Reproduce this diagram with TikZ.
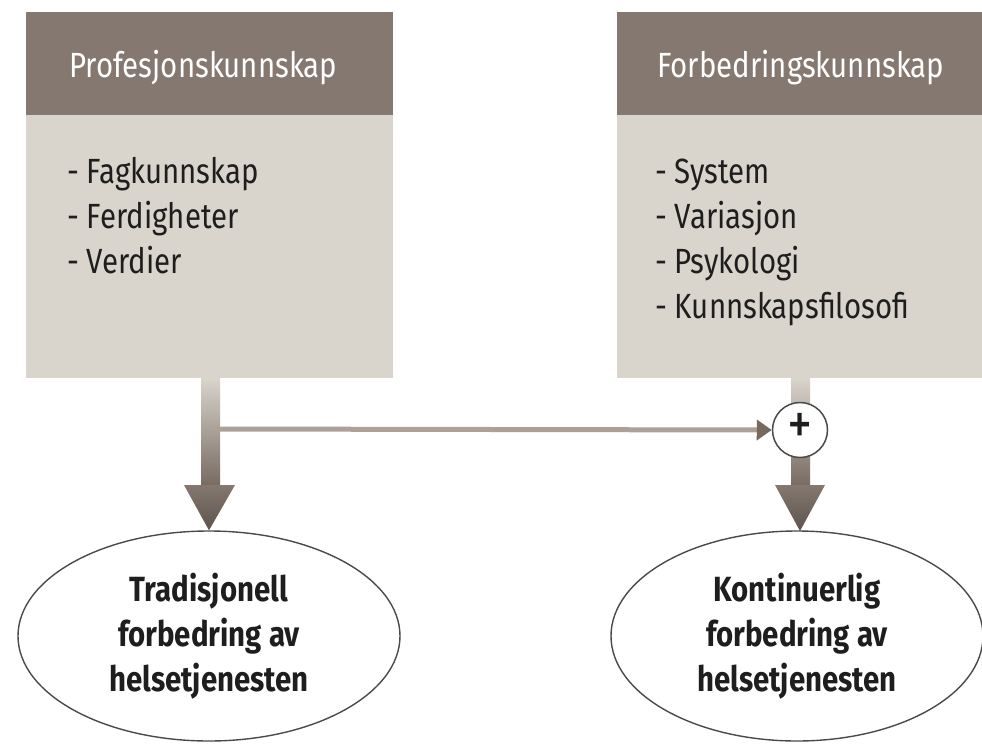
\documentclass[tikz,border=0pt]{standalone}
\usepackage{fontspec}
\setmainfont{Fira Sans}[FakeStretch=0.84]
\usetikzlibrary{shapes.geometric,arrows.meta}
\definecolor{hdr}{HTML}{857870}
\definecolor{bodyc}{HTML}{D9D4CC}
\definecolor{darkc}{HTML}{766960}
\definecolor{linec}{HTML}{ADA197}
\definecolor{edgec}{HTML}{4A4A4A}
\definecolor{txt}{HTML}{1E1E1E}
\tikzset{
  hdrbox/.style={fill=hdr, draw=none, anchor=north west, inner sep=0pt},
  bodybox/.style={fill=bodyc, draw=none, anchor=north west, inner sep=0pt},
  hdrtext/.style={text=white, anchor=base west, inner sep=0pt, font=\fontsize{35}{40}\selectfont},
  itemtext/.style={text=txt, anchor=base west, inner sep=0pt, font=\fontsize{35}{40}\selectfont},
  outcome/.style={ellipse, draw=edgec, line width=1.4pt, fill=white, minimum width=382pt, minimum height=210pt, align=center, text=txt, inner sep=0pt, font=\bfseries\fontsize{35}{45}\selectfont},
  plusnode/.style={circle, draw=edgec, line width=1.5pt, fill=white, minimum size=55pt, inner sep=0pt, text=txt, font=\fontsize{60}{60}\selectfont},
}
\begin{document}
\begin{tikzpicture}[x=1pt,y=-1pt]
\useasboundingbox (0,0) rectangle (982,744);
\fill[white] (0,0) rectangle (982,744);
% left box
\node[hdrbox, minimum width=367pt, minimum height=103pt] (h1) at (26,12) {};
\node[bodybox, minimum width=367pt, minimum height=263pt] (b1) at (26,115) {};
\node[hdrtext] (h1t) at (69,77) {Profesjonskunnskap};
\node[itemtext] (i11) at (67,183) {- Fagkunnskap};
\node[itemtext] (i12) at (67,228) {- Ferdigheter};
\node[itemtext] (i13) at (67,273) {- Verdier};
% right box
\node[hdrbox, minimum width=365pt, minimum height=103pt] (h2) at (617,12) {};
\node[bodybox, minimum width=365pt, minimum height=263pt] (b2) at (617,115) {};
\node[hdrtext] (h2t) at (657,77) {Forbedringskunnskap};
\node[itemtext] (i21) at (655,183) {- System};
\node[itemtext] (i22) at (655,228) {- Variasjon};
\node[itemtext] (i23) at (655,273) {- Psykologi};
\node[itemtext] (i24) at (655,318) {- Kunnskapsfilosofi};
% outcomes
\node[outcome] (e1) at (209,636) {Tradisjonell\\forbedring av\\helsetjenesten};
\node[outcome, minimum width=372pt] (e2) at (797,636) {Kontinuerlig\\forbedring av\\helsetjenesten};
% left thick arrow
\coordinate (s1a) at (201,378);
\coordinate (s1b) at (220,487);
\shade[top color=bodyc, bottom color=darkc] (s1a) rectangle (s1b);
\shade[top color=darkc!90!white, bottom color=darkc!80!black] (184,485) -- (235,485) -- (e1.north) -- cycle;
% right thick arrow
\coordinate (s2a) at (791,378);
\coordinate (s2b) at (810,487);
\shade[top color=bodyc, bottom color=darkc] (s2a) rectangle (s2b);
\shade[top color=darkc!90!white, bottom color=darkc!80!black] (775,485) -- (825,485) -- (800,531) -- cycle;
% plus
\node[plusnode] (plus) at (800,430) {\raisebox{2pt}{+}};
\coordinate (j1) at (215,429);
\draw[line width=5pt, color=linec, -{Triangle[length=15pt,width=20pt,color=darkc]}] (j1) -- (plus.west);
\end{tikzpicture}
\end{document}
